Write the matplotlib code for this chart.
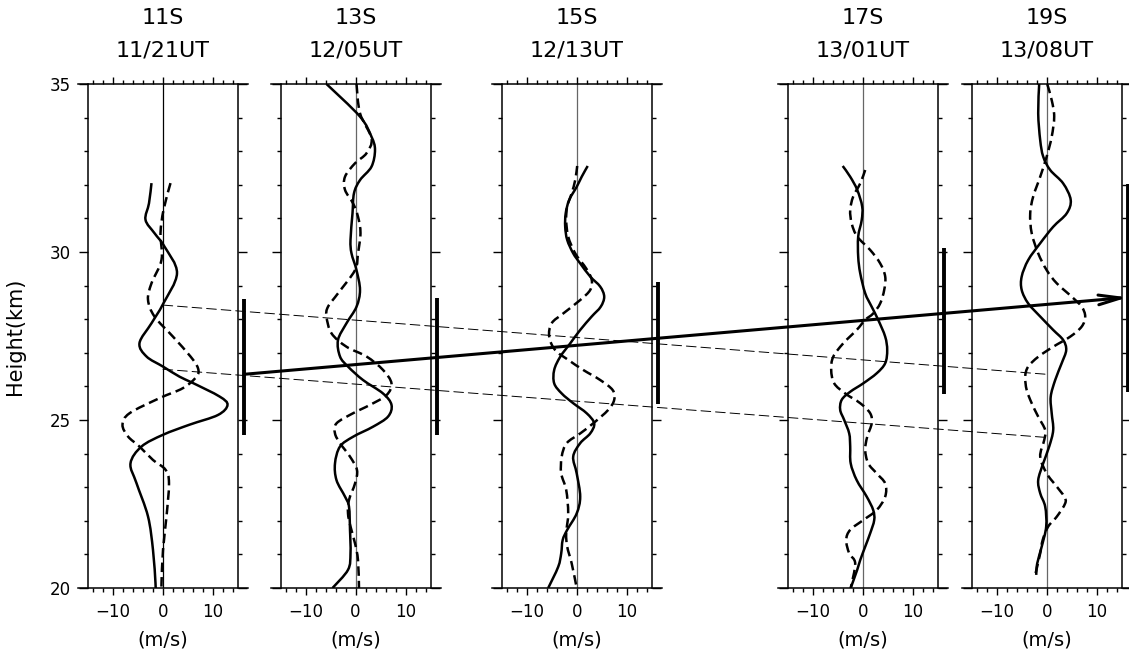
import numpy as np
import matplotlib
matplotlib.use('Agg')
import matplotlib.pyplot as plt
from matplotlib.path import Path
from matplotlib.patches import PathPatch, ConnectionPatch
from matplotlib.ticker import FixedLocator, MultipleLocator

# sonde labels and launch times
sondes = ['11S', '13S', '15S', '17S', '19S']
times = ['11/21UT', '12/05UT', '12/13UT', '13/01UT', '13/08UT']

# panel 1 (11S): solid = u, dashed = v
h_u1 = [32.05, 31.45, 30.96, 30.56, 30.16, 29.37, 28.45, 27.88, 27.29, 26.89, 26.59, 26.29, 26.10,
        25.70, 25.45, 25.15, 24.86, 24.56, 24.21, 23.71, 23.12, 22.13, 21.13, 20.14, 20.0]
u1 = [-2.3, -2.8, -3.5, -1.7, 0.3, 2.8, 0.0, -2.3, -4.7, -3.3, 0.0, 3.3, 6.0,
      11.3, 12.9, 11.0, 5.3, 0.0, -4.3, -6.5, -5.3, -3.0, -2.0, -1.5, -1.5]
h_v1 = [32.05, 31.25, 30.56, 29.77, 29.07, 28.58, 28.08, 27.48, 26.89, 26.54, 26.29, 25.95, 25.65,
        25.20, 24.86, 24.51, 24.21, 23.81, 23.52, 23.12, 22.13, 21.13, 20.14, 20.0]
v1 = [1.5, 0.1, -0.5, -0.3, -2.3, -3.0, -1.7, 2.0, 5.5, 7.0, 6.7, 4.0, -0.7,
      -6.7, -8.1, -7.0, -4.7, -2.0, 0.5, 1.2, 0.7, 0.0, -0.3, -0.3]

# panel 2 (13S)
h_u2 = [35.0, 34.03, 33.43, 33.04, 32.54, 32.14, 31.75, 31.15, 30.36, 29.96, 29.46, 28.87, 28.37,
        27.88, 27.38, 26.89, 26.59, 26.19, 25.79, 25.45, 25.10, 24.80, 24.50, 24.21, 23.71, 23.21,
        22.72, 22.42, 21.73, 21.03, 20.54, 20.0]
u2 = [-5.8, 0.9, 3.2, 3.9, 3.2, 0.9, -0.3, -0.6, -1.0, -0.8, 0.2, 0.9, 0.2,
      -1.8, -3.5, -3.1, -1.5, 1.5, 5.5, 7.2, 6.5, 3.5, -0.5, -3.1, -4.1, -3.8,
      -2.1, -1.3, -1.1, -1.0, -1.5, -4.6]
h_v2 = [35.0, 34.13, 33.38, 32.94, 32.64, 32.24, 31.85, 31.45, 31.05, 30.56, 29.96, 29.46, 28.77,
        28.37, 28.08, 27.58, 27.18, 26.89, 26.49, 26.09, 25.74, 25.45, 25.20, 24.90, 24.60, 24.31,
        23.91, 23.51, 23.11, 22.62, 22.22, 21.83, 21.33, 20.83, 20.0]
v2 = [0.2, 0.9, 3.2, 2.2, -0.1, -2.1, -2.1, -0.5, 0.5, 1.0, 0.5, -0.1, -3.5,
      -5.5, -5.8, -4.8, -1.8, 2.2, 5.5, 7.2, 6.2, 2.9, -0.5, -3.8, -4.1, -3.1,
      -1.1, 0.3, -0.1, -1.3, -1.5, -1.0, -0.1, 0.5, 0.7]

# panel 3 (15S)
h_u3 = [32.56, 32.24, 31.94, 31.55, 31.15, 30.75, 30.36, 29.96, 29.66, 29.27, 28.97, 28.67, 28.37,
        28.08, 27.68, 27.28, 26.88, 26.49, 26.09, 25.79, 25.50, 25.20, 24.90, 24.60, 24.31, 23.91,
        23.41, 22.72, 22.22, 21.73, 21.43, 21.03, 20.63, 20.0]
u3 = [2.2, 1.0, 0.0, -1.5, -2.2, -2.3, -1.9, -0.7, 0.7, 2.7, 4.7, 5.5, 4.8,
      3.0, 0.7, -1.3, -3.3, -4.5, -4.5, -3.0, -0.7, 2.0, 3.5, 2.7, 0.7, -0.7,
      0.0, 0.7, 0.0, -1.9, -2.8, -3.1, -3.7, -5.7]
h_v3 = [32.56, 32.14, 31.75, 31.35, 30.95, 30.46, 29.96, 29.51, 29.17, 28.87, 28.57, 28.17, 27.88,
        27.48, 27.08, 26.79, 26.49, 26.19, 25.89, 25.60, 25.30, 24.90, 24.60, 24.31, 23.91, 23.41,
        22.92, 22.22, 21.63, 21.23, 20.73, 20.0]
v3 = [0.1, -0.3, -1.0, -1.9, -2.1, -1.7, -0.3, 1.9, 3.0, 2.7, 0.7, -2.7, -5.0,
      -5.5, -4.3, -1.7, 1.3, 4.7, 7.2, 7.5, 6.3, 3.3, 0.7, -2.0, -3.0, -3.1,
      -2.1, -1.7, -2.1, -1.9, -1.0, 0.0]

# panel 4 (17S)
h_u4 = [32.56, 32.24, 31.85, 31.35, 30.95, 30.46, 29.86, 29.37, 28.77, 28.37, 27.98, 27.48, 27.08,
        26.69, 26.39, 26.09, 25.84, 25.60, 25.30, 25.00, 24.60, 24.21, 23.71, 23.21, 22.72, 22.32,
        22.02, 21.63, 21.23, 20.83, 20.54, 20.0]
u4 = [-4.0, -2.5, -1.1, -0.1, -0.2, -0.9, -0.9, -0.5, 0.5, 1.8, 3.1, 4.5, 4.9,
      4.5, 2.8, 0.1, -2.5, -4.2, -4.5, -3.7, -2.7, -2.5, -2.4, -1.2, 0.8, 2.1,
      2.3, 1.5, 0.5, -0.5, -1.1, -2.4]
h_v4 = [32.44, 32.04, 31.65, 31.25, 30.85, 30.46, 30.06, 29.66, 29.27, 28.87, 28.47, 28.17, 27.98,
        27.68, 27.28, 26.88, 26.49, 26.09, 25.79, 25.50, 25.20, 24.90, 24.50, 24.11, 23.71, 23.41,
        23.11, 22.72, 22.32, 22.02, 21.73, 21.43, 21.03, 20.73, 20.0]
v4 = [0.5, -0.5, -1.9, -2.5, -2.2, -1.1, 1.5, 3.5, 4.5, 4.3, 3.5, 2.1, 0.5,
      -1.2, -3.9, -5.9, -6.3, -5.7, -3.5, -0.5, 1.5, 1.8, 0.9, 0.5, 1.1, 2.8,
      4.5, 4.5, 2.8, 0.1, -2.5, -3.3, -2.7, -1.5, -2.4]

# panel 5 (19S)
h_u5 = [35.0, 34.13, 33.33, 32.84, 32.44, 32.04, 31.55, 31.15, 30.75, 30.26, 29.76, 29.27, 28.87,
        28.47, 28.08, 27.68, 27.38, 27.08, 26.69, 26.19, 25.69, 25.20, 24.70, 24.21, 23.71, 23.21,
        22.82, 22.42, 21.83, 21.23, 20.73, 20.39]
u5 = [-1.5, -1.7, -1.3, -0.7, 0.7, 3.3, 4.8, 4.0, 1.3, -1.3, -3.7, -5.0, -5.0,
      -3.7, -1.3, 1.3, 3.3, 3.9, 3.0, 1.7, 0.8, 1.0, 1.3, 0.5, -0.7, -1.7,
      -1.3, -0.3, -0.1, -1.0, -1.9, -2.1]
h_v5 = [35.0, 34.52, 34.03, 33.43, 32.84, 32.24, 31.65, 31.15, 30.56, 29.96, 29.46, 29.07, 28.67,
        28.37, 28.08, 27.78, 27.48, 27.18, 26.88, 26.59, 26.29, 25.89, 25.50, 25.10, 24.70, 24.40,
        23.91, 23.41, 23.02, 22.72, 22.52, 22.12, 21.83, 21.43, 21.03, 20.39]
v5 = [0.1, 1.0, 1.5, 1.0, 0.0, -1.3, -2.7, -3.3, -3.0, -1.7, 0.0, 2.0, 5.0,
      7.0, 7.7, 7.0, 4.7, 1.3, -1.7, -3.7, -4.3, -4.0, -3.0, -1.7, -0.3, -0.5,
      -1.3, 0.0, 2.0, 3.5, 3.7, 2.0, 0.3, -0.8, -1.3, -2.3]

profiles_u = [(h_u1, u1), (h_u2, u2), (h_u3, u3), (h_u4, u4), (h_u5, u5)]
profiles_v = [(h_v1, v1), (h_v2, v2), (h_v3, v3), (h_v4, v4), (h_v5, v5)]

# height range of the wave packet marked right of each panel (km)
bar_lo = [24.55, 24.55, 25.48, 25.77, 25.84]
bar_hi = [28.60, 28.62, 29.12, 30.11, 32.02]
# packet centre drift (first -> last panel) and phase lines
arrow_h = [26.36, 28.65]
phase_top = [28.42, 26.36]
phase_bot = [26.51, 24.48]

# layout (pixels)
W, H = 1129, 654
zero_px = [163, 355.5, 576.7, 862.7, 1046.7]
zero_colors = ['black', '#666666', '#666666', '#666666', '#666666']
bar_x = 16.2


def smooth_curve(ax, x, y, **kw):
    """draw a smooth line through the points (Catmull-Rom as bezier path)"""
    pts = np.column_stack([x, y])
    n = len(pts)
    verts = [pts[0]]
    codes = [Path.MOVETO]
    for i in range(n - 1):
        p0 = pts[max(i - 1, 0)]
        p1 = pts[i]
        p2 = pts[i + 1]
        p3 = pts[min(i + 2, n - 1)]
        verts += [p1 + (p2 - p0) / 6, p2 - (p3 - p1) / 6, p2]
        codes += [Path.CURVE4] * 3
    ax.add_patch(PathPatch(Path(verts, codes), fill=False, **kw))


fig = plt.figure(figsize=(W / 100, H / 100), dpi=100)

axes = []
for i in range(5):
    ax = fig.add_axes([(zero_px[i] - 85) / W, 66 / H, 170 / W, 504 / H])
    ax.set_xlim(-17, 17)
    ax.set_ylim(20, 35)
    ax.spines['left'].set_position(('data', -15))
    ax.spines['right'].set_position(('data', 15))
    for s in ax.spines.values():
        s.set_linewidth(1.1)

    ax.xaxis.set_major_locator(FixedLocator([-10, 0, 10]))
    ax.xaxis.set_minor_locator(FixedLocator([-14, -12, -8, -6, -4, -2, 2, 4, 6, 8, 12, 14]))
    ax.yaxis.set_major_locator(MultipleLocator(5))
    ax.yaxis.set_minor_locator(MultipleLocator(1))
    ax.tick_params(which='both', direction='out', top=True, right=True, width=1.0)
    ax.tick_params(axis='x', which='major', length=5, labelsize=12, pad=6)
    ax.tick_params(axis='x', which='minor', length=3)
    ax.tick_params(axis='y', which='major', length=6.5, labelsize=12, pad=6)
    ax.tick_params(axis='y', which='minor', length=3)
    if i > 0:
        ax.tick_params(axis='y', labelleft=False)

    ax.axvline(0, color=zero_colors[i], lw=0.9, zorder=1)

    hu, uu = profiles_u[i]
    hv, vv = profiles_v[i]
    smooth_curve(ax, uu, hu, color='black', lw=1.8, zorder=3)
    smooth_curve(ax, vv, hv, color='black', lw=1.8, linestyle=(0, (3.8, 2.0)), zorder=3)

    ax.plot([bar_x, bar_x], [bar_lo[i], bar_hi[i]], color='black', lw=2.8,
            solid_capstyle='butt', clip_on=False)

    ax.set_title(sondes[i] + '\n' + times[i], fontsize=16, linespacing=1.75, pad=20)
    ax.set_xlabel('(m/s)', fontsize=14, labelpad=7)
    axes.append(ax)

axes[0].set_ylabel('Height(km)', fontsize=15)
axes[0].yaxis.set_label_coords(-0.31, 0.5)

# thin dashed phase lines from first to last sonde
for hs in (phase_top, phase_bot):
    con = ConnectionPatch(xyA=(0, hs[0]), coordsA='data', axesA=axes[0],
                          xyB=(0, hs[1]), coordsB='data', axesB=axes[4],
                          color='black', lw=0.7, linestyle=(0, (10, 5)))
    fig.add_artist(con)

# thick arrow: drift of the packet
arrow = ConnectionPatch(xyA=(bar_x, arrow_h[0]), coordsA='data', axesA=axes[0],
                        xyB=(bar_x, arrow_h[1]), coordsB='data', axesB=axes[4],
                        arrowstyle='->,head_length=1.6,head_width=0.35',
                        mutation_scale=10, shrinkA=0, shrinkB=0, color='black', lw=2.2)
fig.add_artist(arrow)

fig.savefig('out.png', dpi=100)
